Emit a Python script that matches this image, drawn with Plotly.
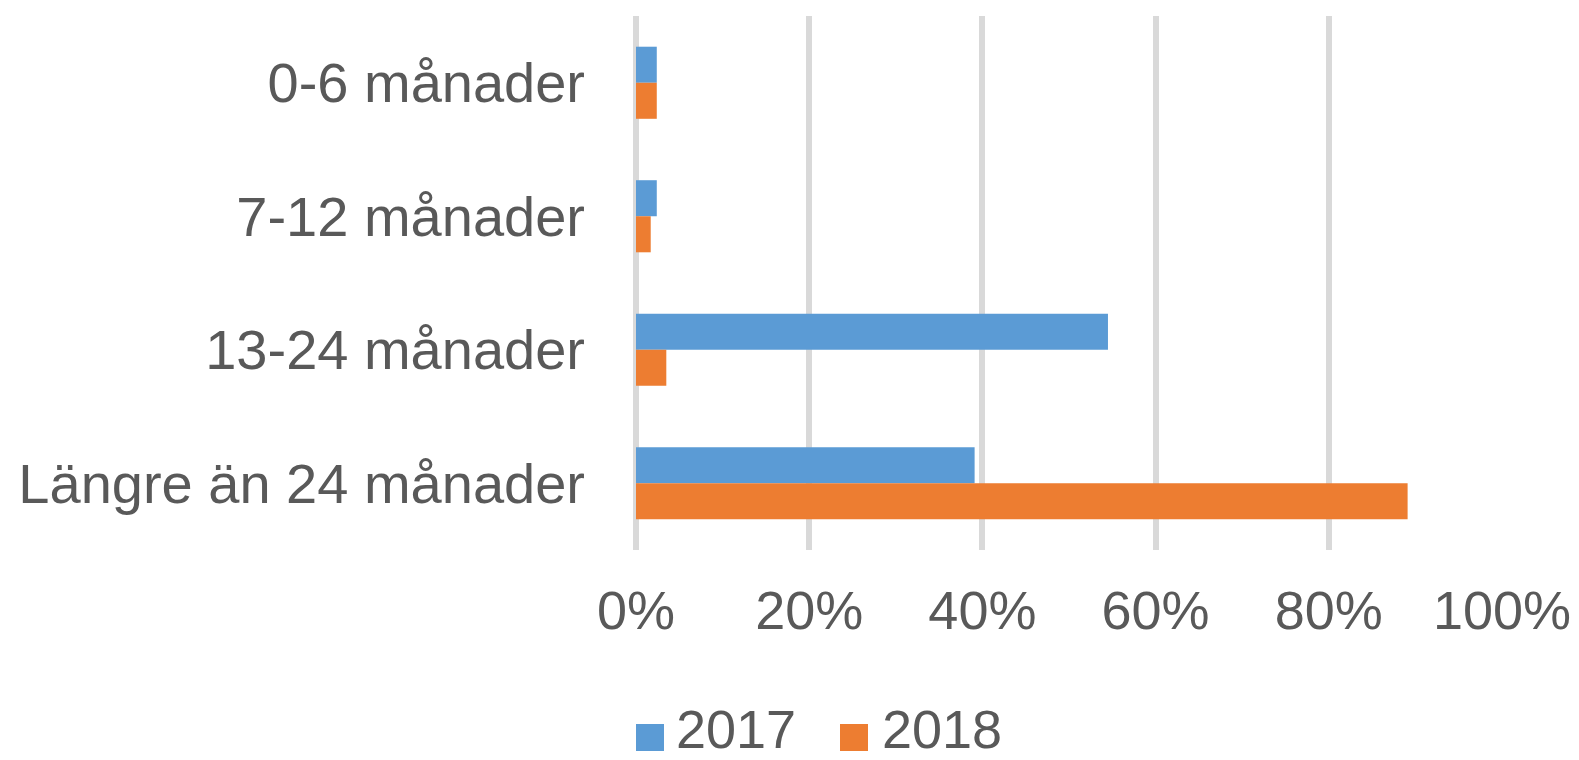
import plotly.graph_objects as go

categories = ["0-6 månader", "7-12 månader", "13-24 månader", "Längre än 24 månader"]
series_names = ["2017", "2018"]
values_2017 = [2.4, 2.4, 54.5, 39.1]
values_2018 = [2.4, 1.7, 3.5, 89.1]
tick_vals = [0, 20, 40, 60, 80, 100]
tick_text = ["0%", "20%", "40%", "60%", "80%", "100%"]

colors = ["#5B9BD5", "#ED7D31"]
font_family = "Liberation Sans, Arial, sans-serif"
text_color = "#595959"

W, H = 1579, 760
L, R, T, B = 636, 77, 16, 210
PW, PH = W - L - R, H - T - B


def px_x(px):
    return (px - L) / PW


def px_y(py):
    return (H - B - py) / PH


fig = go.Figure()
for name, vals, col in zip(series_names, [values_2017, values_2018], colors):
    fig.add_trace(go.Bar(
        y=categories, x=vals, name=name, orientation="h",
        marker=dict(color=col, line=dict(width=0)),
        hovertemplate="%{y}: %{x:.1f}%<extra>" + name + "</extra>",
    ))

# Legend drawn as squares + text below the axis
legend_items = [(series_names[0], colors[0], 636, 677), (series_names[1], colors[1], 840, 883)]
shapes = []
annotations = []
for name, col, sq_left, txt_left in legend_items:
    shapes.append(dict(
        type="rect", xref="paper", yref="paper",
        x0=px_x(sq_left), x1=px_x(sq_left + 28), y0=px_y(751), y1=px_y(724),
        fillcolor=col, line=dict(width=0),
    ))
    annotations.append(dict(
        text=name, xref="paper", yref="paper", x=px_x(txt_left - 3), y=px_y(729),
        xanchor="left", yanchor="middle", showarrow=False,
        font=dict(size=54, color=text_color, family=font_family),
    ))

fig.update_layout(
    width=W, height=H,
    margin=dict(l=L, r=R, t=T, b=B, pad=0, autoexpand=False),
    paper_bgcolor="white", plot_bgcolor="white",
    barmode="group", bargap=0.46, bargroupgap=0,
    font=dict(family=font_family, color=text_color, size=54),
    showlegend=False,
    shapes=shapes,
    annotations=annotations,
    xaxis=dict(
        range=[0, 100], tickmode="array", tickvals=tick_vals, ticktext=tick_text,
        showgrid=True, gridcolor="#D9D9D9", gridwidth=6,
        zeroline=True, zerolinecolor="#D9D9D9", zerolinewidth=6,
        showline=False, ticks="", ticklabelstandoff=24,
        tickfont=dict(size=54, color=text_color, family=font_family),
        fixedrange=True, automargin=False,
    ),
    yaxis=dict(
        autorange="reversed", showgrid=False, zeroline=False, showline=False,
        ticks="", ticklabelstandoff=50,
        tickfont=dict(size=56, color=text_color, family=font_family),
        fixedrange=True, automargin=False,
    ),
)

fig.write_html(
    "out.html",
    config={"displayModeBar": False},
    post_script="document.body.style.margin='0';document.body.style.padding='0';",
)
